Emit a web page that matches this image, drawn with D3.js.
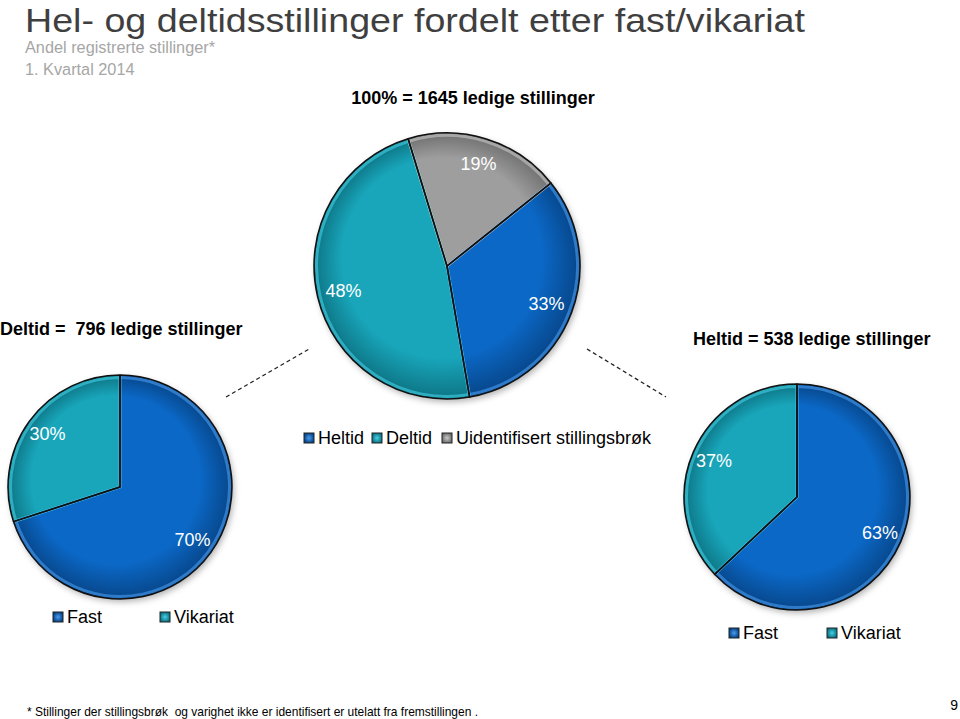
<!DOCTYPE html>
<html>
<head>
<meta charset="utf-8">
<script src="https://cdn.jsdelivr.net/npm/d3@7"></script>
<style>
    body { margin: 0; background: #fff; }
    svg { font-family: "Liberation Sans", Arial, sans-serif; }
</style>
</head>
<body>
<div id="chart"></div>
<script>
// data
const topCategories = ["Heltid", "Deltid", "Uidentifisert stillingsbrøk"];
const topValues = [33, 48, 19];
const subCategories = ["Fast", "Vikariat"];
const deltidValues = [70, 30];
const heltidValues = [63, 37];

const width = 960;
const height = 719;
const deg = Math.PI / 180;

const svg = d3.select("#chart").append("svg")
    .attr("width", width)
    .attr("height", height)
    .attr("viewBox", `0 0 ${width} ${height}`);

const defs = svg.append("defs");

const colors = {
    "Heltid": ["#4a9cf0", "#0b68c6", "#07468a"],
    "Fast": ["#4a9cf0", "#0b68c6", "#07468a"],
    "Deltid": ["#45d0e6", "#19a6bb", "#0d7585"],
    "Vikariat": ["#45d0e6", "#19a6bb", "#0d7585"],
    "Uidentifisert stillingsbrøk": ["#c8c8c8", "#9e9e9e", "#707070"],
};

function gradId(name) {
    return "g" + name.replace(/[^a-z]/gi, "");
}

const shadow = defs.append("filter").attr("id", "shadow")
    .attr("x", "-10%").attr("y", "-10%").attr("width", "130%").attr("height", "130%");
shadow.append("feDropShadow").attr("dx", 2).attr("dy", 3).attr("stdDeviation", 3)
    .attr("flood-color", "#000").attr("flood-opacity", 0.3);

// legend marker gradients
Object.keys(colors).forEach(k => {
    const c = colors[k];
    const lg = defs.append("radialGradient").attr("id", gradId(k) + "L");
    lg.append("stop").attr("offset", "0%").attr("stop-color", c[0]);
    lg.append("stop").attr("offset", "100%").attr("stop-color", c[2]);
});

function drawPie(id, cx, cy, r, cats, values, start) {
    const pie = d3.pie().sort(null).startAngle(start).endAngle(start + 2 * Math.PI);
    const arcs = pie(values);
    const arc = d3.arc().innerRadius(0).outerRadius(r);
    const bevel = d3.arc().innerRadius(0).outerRadius(r - 2.5);
    const labelArc = d3.arc().innerRadius(r * 0.8).outerRadius(r * 0.8);

    // gradients centred on this pie
    cats.forEach(k => {
        const c = colors[k];
        const rg = defs.append("radialGradient").attr("id", id + gradId(k))
            .attr("gradientUnits", "userSpaceOnUse")
            .attr("cx", 0).attr("cy", 0).attr("r", r)
            .attr("fx", -r * 0.15).attr("fy", -r * 0.25);
        rg.append("stop").attr("offset", "0%").attr("stop-color", c[1]);
        rg.append("stop").attr("offset", "75%").attr("stop-color", c[1]);
        rg.append("stop").attr("offset", "100%").attr("stop-color", c[2]);
    });

    const g = svg.append("g").attr("transform", `translate(${cx},${cy})`);

    g.append("circle").attr("r", r).attr("fill", "#fff").attr("filter", "url(#shadow)");

    g.selectAll("path.slice")
        .data(arcs)
        .enter()
        .append("path")
        .attr("class", "slice")
        .attr("d", arc)
        .attr("fill", (d, i) => `url(#${id}${gradId(cats[i])})`);

    // inner highlight
    g.selectAll("path.bevel")
        .data(arcs)
        .enter()
        .append("path")
        .attr("class", "bevel")
        .attr("d", bevel)
        .attr("fill", "none")
        .attr("stroke", (d, i) => colors[cats[i]][0])
        .attr("stroke-width", 3)
        .attr("stroke-opacity", 0.6);

    g.selectAll("path.outline")
        .data(arcs)
        .enter()
        .append("path")
        .attr("class", "outline")
        .attr("d", arc)
        .attr("fill", "none")
        .attr("stroke", "#111")
        .attr("stroke-width", 1.5)
        .attr("stroke-linejoin", "round");

    g.selectAll("text.lbl")
        .data(arcs)
        .enter()
        .append("text")
        .attr("class", "lbl")
        .attr("transform", d => `translate(${labelArc.centroid(d)})`)
        .attr("text-anchor", "middle")
        .attr("dominant-baseline", "central")
        .attr("fill", "#fff")
        .style("font-size", "18px")
        .text(d => d.data + "%");
}

function drawLegend(x, y, cats, gaps) {
    const g = svg.append("g").attr("transform", `translate(${x},${y})`);
    let cx = 0;
    cats.forEach((c, i) => {
        g.append("rect")
            .attr("x", cx).attr("y", -5).attr("width", 10).attr("height", 10)
            .attr("fill", `url(#${gradId(c)}L)`)
            .attr("stroke", "#222").attr("stroke-width", 1);
        g.append("text")
            .attr("x", cx + 14).attr("y", 0)
            .attr("dominant-baseline", "central")
            .style("font-size", "18px")
            .attr("fill", "#000")
            .text(c);
        cx += gaps[i];
    });
}

// titles
svg.append("text").attr("x", 25).attr("y", 32)
    .style("font-size", "34px").attr("fill", "#3f3f3f")
    .attr("textLength", 780).attr("lengthAdjust", "spacingAndGlyphs")
    .text("Hel- og deltidsstillinger fordelt etter fast/vikariat");
svg.append("text").attr("x", 25).attr("y", 53)
    .style("font-size", "16.3px").attr("fill", "#a6a6a6")
    .text("Andel registrerte stillinger*");
svg.append("text").attr("x", 25).attr("y", 75)
    .style("font-size", "16.3px").attr("fill", "#a6a6a6")
    .text("1. Kvartal 2014");

svg.append("text").attr("x", 473).attr("y", 104)
    .attr("text-anchor", "middle")
    .style("font-size", "18px").style("font-weight", "bold")
    .text("100% = 1645 ledige stillinger");

svg.append("text").attr("x", 0).attr("y", 335)
    .style("font-size", "18px").style("font-weight", "bold")
    .attr("xml:space", "preserve")
    .text("Deltid =  796 ledige stillinger");

svg.append("text").attr("x", 693).attr("y", 345)
    .style("font-size", "18px").style("font-weight", "bold")
    .text("Heltid = 538 ledige stillinger");

// dashed connectors
svg.append("line").attr("x1", 226).attr("y1", 397).attr("x2", 311).attr("y2", 348)
    .attr("stroke", "#222").attr("stroke-width", 1.3).attr("stroke-dasharray", "4,3");
svg.append("line").attr("x1", 587).attr("y1", 349).attr("x2", 666).attr("y2", 397)
    .attr("stroke", "#222").attr("stroke-width", 1.3).attr("stroke-dasharray", "4,3");

// pies
drawPie("top", 447, 266, 133, topCategories, topValues, 51.4 * deg);
drawPie("left", 120, 487, 112, subCategories, deltidValues, 0);
drawPie("right", 797, 497, 113, subCategories, heltidValues, 0);

// legends
drawLegend(304, 438, topCategories, [68, 70, 0]);
drawLegend(53, 617, subCategories, [107, 0]);
drawLegend(729, 633, subCategories, [98, 0]);

// footnote and page number
svg.append("text").attr("x", 27).attr("y", 716)
    .style("font-size", "13px")
    .attr("textLength", 451).attr("lengthAdjust", "spacingAndGlyphs")
    .attr("xml:space", "preserve")
    .text("* Stillinger der stillingsbrøk  og varighet ikke er identifisert er utelatt fra fremstillingen .");
svg.append("text").attr("x", 958).attr("y", 710)
    .attr("text-anchor", "end")
    .style("font-size", "14px")
    .text("9");
</script>
</body>
</html>
